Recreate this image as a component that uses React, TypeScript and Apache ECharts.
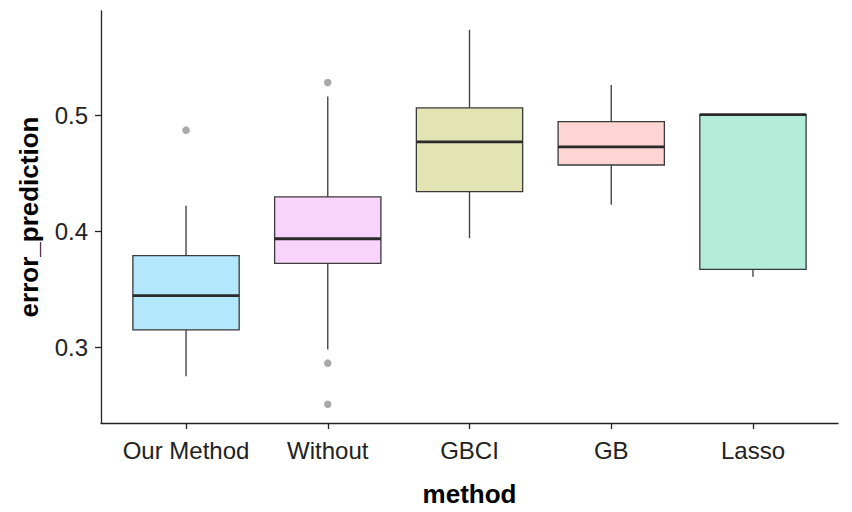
import React, { useEffect, useRef } from "react";
import * as echarts from "echarts";

const categories = ["Our Method", "Without", "GBCI", "GB", "Lasso"];
const lowerWhisker = [0.2749, 0.298, 0.3943, 0.423, 0.361];
const q1 = [0.315, 0.3724, 0.4344, 0.4574, 0.3673];
const median = [0.3446, 0.3937, 0.4773, 0.473, 0.5009];
const q3 = [0.3792, 0.4298, 0.5068, 0.4949, 0.5009];
const upperWhisker = [0.4222, 0.5165, 0.5742, 0.5264, 0.5009];
const outlierCategory = [0, 1, 1, 1];
const outlierValue = [0.4875, 0.5287, 0.2863, 0.2508];
const yTicks = [0.3, 0.4, 0.5];
const fills = ["#b3e7fc", "#f8d3fb", "#e3e4b3", "#fdd6d3", "#b3ecd8"];

const FONT = "'Liberation Sans', Arial, sans-serif";

export default function App() {
  const ref = useRef<HTMLDivElement>(null);
  useEffect(() => {
    if (!ref.current) return;
    const chart = echarts.init(ref.current, undefined, { renderer: "svg" });
    const boxData = categories.map((_, i) => [
      i,
      lowerWhisker[i],
      q1[i],
      median[i],
      q3[i],
      upperWhisker[i],
    ]);
    const outData = outlierCategory.map((c, i) => [c, outlierValue[i]]);
    chart.setOption({
      animation: false,
      backgroundColor: "#ffffff",
      grid: { left: 101, right: 14, top: 11, bottom: 83.4 },
      xAxis: {
        type: "value",
        min: -0.6,
        max: 4.6,
        name: "method",
        nameLocation: "middle",
        nameGap: 58,
        nameTextStyle: { fontFamily: FONT, fontSize: 26, fontWeight: "bold", color: "#000" },
        axisLine: { show: true, onZero: false, lineStyle: { color: "#222", width: 1.3 } },
        axisTick: {
          show: true,
          length: 6,
          customValues: [0, 1, 2, 3, 4],
          lineStyle: { color: "#222", width: 1.3 },
        },
        axisLabel: {
          customValues: [0, 1, 2, 3, 4],
          formatter: (v: number) => categories[Math.round(v)] ?? "",
          fontFamily: FONT,
          fontSize: 24,
          color: "#222",
          margin: 15,
        },
        splitLine: { show: false },
      },
      yAxis: {
        type: "value",
        min: 0.2346,
        max: 0.5904,
        name: "error_prediction",
        nameLocation: "middle",
        nameGap: 59,
        nameTextStyle: { fontFamily: FONT, fontSize: 26, fontWeight: "bold", color: "#000" },
        axisLine: { show: true, onZero: false, lineStyle: { color: "#222", width: 1.3 } },
        axisTick: {
          show: true,
          length: 6,
          customValues: yTicks,
          lineStyle: { color: "#222", width: 1.3 },
        },
        axisLabel: {
          customValues: yTicks,
          formatter: (v: number) => v.toFixed(1),
          fontFamily: FONT,
          fontSize: 24,
          color: "#222",
          margin: 13,
        },
        splitLine: { show: false },
      },
      series: [
        {
          type: "custom",
          data: boxData,
          encode: { x: 0, y: [1, 2, 3, 4, 5] },
          renderItem: (params: any, api: any) => {
            const x = api.value(0);
            const idx = Math.round(x);
            const unit = api.size([1, 0])[0];
            const half = unit * 0.375;
            const pLow = api.coord([x, api.value(1)]);
            const pQ1 = api.coord([x, api.value(2)]);
            const pMed = api.coord([x, api.value(3)]);
            const pQ3 = api.coord([x, api.value(4)]);
            const pHigh = api.coord([x, api.value(5)]);
            const lineStyle = { stroke: "#3a3a3a", lineWidth: 1.3 };
            return {
              type: "group",
              children: [
                {
                  type: "line",
                  shape: { x1: pLow[0], y1: pLow[1], x2: pQ1[0], y2: pQ1[1] },
                  style: lineStyle,
                },
                {
                  type: "line",
                  shape: { x1: pQ3[0], y1: pQ3[1], x2: pHigh[0], y2: pHigh[1] },
                  style: lineStyle,
                },
                {
                  type: "rect",
                  shape: {
                    x: pQ3[0] - half,
                    y: pQ3[1],
                    width: half * 2,
                    height: pQ1[1] - pQ3[1],
                  },
                  style: { fill: fills[idx], stroke: "#3a3a3a", lineWidth: 1.3 },
                },
                {
                  type: "line",
                  shape: { x1: pMed[0] - half, y1: pMed[1], x2: pMed[0] + half, y2: pMed[1] },
                  style: { stroke: "#2a2a2a", lineWidth: 2.8 },
                },
              ],
            };
          },
        },
        {
          type: "scatter",
          data: outData,
          symbol: "circle",
          symbolSize: 7.5,
          itemStyle: { color: "#a9a9a9", opacity: 1 },
        },
      ],
    });
    return () => chart.dispose();
  }, []);
  return (
    <div
      ref={ref}
      style={{ position: "fixed", left: 0, top: 0, width: 852, height: 512, background: "#fff" }}
    />
  );
}
